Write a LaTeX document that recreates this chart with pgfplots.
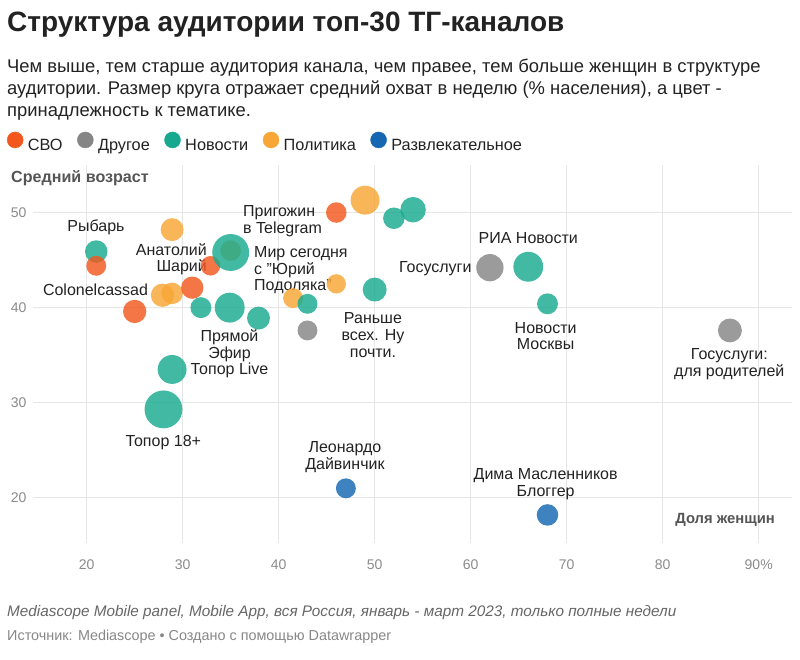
\documentclass[border=0pt]{standalone}
\usepackage{fontspec}
\setmainfont{Liberation Sans}
\usepackage{pgfplots}
\pgfplotsset{compat=1.18}
\usepackage{pgfplotstable}
\definecolor{cSVO}{HTML}{F2581E}
\definecolor{cOther}{HTML}{858585}
\definecolor{cNews}{HTML}{17A98F}
\definecolor{cPol}{HTML}{F8A635}
\definecolor{cEnt}{HTML}{1567B2}
\definecolor{gridc}{HTML}{E6E6E6}
\definecolor{tickc}{HTML}{8A8A8A}
\definecolor{labc}{HTML}{222222}
\definecolor{axlabc}{HTML}{555555}

% x = share of women (%), y = average age, r = bubble radius (bp), c = category
\pgfplotstableread{
x y r c
35 46 10.3 p
28 29.3 19 n
32.9 44.4 9.8 s
35 45.8 18.5 n
34.9 40 15 n
66 44.3 15 n
28.9 33.5 14.5 n
49 51.3 14.5 p
62 44.2 13.7 d
54 50.3 12.8 n
50 41.9 12 n
87 37.6 12 d
21 45.9 11.3 n
21 44.4 10 s
25 39.6 11.7 s
28.9 48.2 11.5 p
27.9 41.3 11.7 p
28.9 41.5 10.8 p
31 42.1 11.2 s
31.9 40 10.5 n
37.9 38.9 11.5 n
52 49.4 10.8 n
46 50 10.3 s
46 42.5 9.7 p
41.5 41 10 p
43 40.4 10 n
43 37.6 10 d
68 40.4 10.5 n
47 21 10 e
68 18.2 10.8 e
}\bubbles

\newcommand{\lfont}{\fontsize{16bp}{16.7bp}\selectfont}

\begin{document}
\begin{tikzpicture}[x=1bp,y=1bp]
\path[use as bounding box] (0,0) rectangle (800,660);
% title, subtitle
\node[anchor=base west, inner sep=0, text=labc, font=\fontsize{28bp}{32bp}\selectfont\bfseries] at (7,628.5) {Структура аудитории топ-30 ТГ-каналов};
\node[anchor=base west, inner sep=0, text=labc, font=\fontsize{18.4bp}{20bp}\selectfont] at (7,587.5) {Чем выше, тем старше аудитория канала, чем правее, тем больше женщин в структуре};
\node[anchor=base west, inner sep=0, text=labc, font=\fontsize{18.4bp}{20bp}\selectfont] at (7,565.2) {аудитории. Размер круга отражает средний охват в неделю (\% населения), а цвет -};
\node[anchor=base west, inner sep=0, text=labc, font=\fontsize{18.4bp}{20bp}\selectfont] at (7,543) {принадлежность к тематике.};
% axis title
\node[anchor=west, inner sep=0, text=axlabc, font=\fontsize{16.1bp}{18bp}\selectfont\bfseries] at (11,481.7) {Средний возраст};
% footer
\node[anchor=base west, inner sep=0, text=black!60, font=\fontsize{15.3bp}{18bp}\selectfont\itshape] at (7,43) {Mediascope Mobile panel, Mobile App, вся Россия, январь - март 2023, только полные недели};
\node[anchor=base west, inner sep=0, text=black!47, font=\fontsize{14.4bp}{16bp}\selectfont] at (7,19.5) {Источник: Mediascope • Создано с помощью Datawrapper};

\begin{axis}[
  at={(33bp,117bp)}, anchor=south west, scale only axis,
  width=759bp, height=378bp,
  xmin=14.41, xmax=93.47, ymin=15.25, ymax=55,
  axis line style={draw=none},
  major tick style={draw=none},
  xmajorgrids, ymajorgrids,
  major grid style={draw=gridc, line width=1bp},
  xtick={20,30,40,50,60,70,80,90},
  xticklabels={20,30,40,50,60,70,80,90\%},
  ytick={20,30,40,50},
  /pgf/number format/assume math mode=true,
  tick label style={font=\fontsize{14bp}{16bp}\selectfont, text=tickc},
  yticklabel style={xshift=-3bp},
  xticklabel style={yshift=-13bp},
  clip=false,
  legend style={draw=none, fill=none, inner sep=0pt, outer sep=0pt,
    at={(-0.0343,1.0609)}, anchor=west, legend columns=-1,
    font=\fontsize{16.3bp}{18bp}\selectfont, text=labc,
    nodes={inner sep=0pt},
    /tikz/every odd column/.append style={column sep=4.5bp},
    /tikz/every even column/.append style={column sep=14.5bp}},
]
\addlegendimage{legend image code/.code={\fill[cSVO] (8bp,5.8bp) circle (8bp);}}
\addlegendimage{legend image code/.code={\fill[cOther] (8bp,5.8bp) circle (8bp);}}
\addlegendimage{legend image code/.code={\fill[cNews] (8bp,5.8bp) circle (8bp);}}
\addlegendimage{legend image code/.code={\fill[cPol] (8bp,5.8bp) circle (8bp);}}
\addlegendimage{legend image code/.code={\fill[cEnt] (8bp,5.8bp) circle (8bp);}}
\legend{СВО,Другое,Новости,Политика,Развлекательное}

\addplot[scatter, only marks, mark=*,
  point meta=explicit symbolic,
  scatter/classes={
    s={mark=*, draw=cSVO, draw opacity=0, fill=cSVO, fill opacity=0.82},
    d={mark=*, draw=cOther, draw opacity=0, fill=cOther, fill opacity=0.82},
    n={mark=*, draw=cNews, draw opacity=0, fill=cNews, fill opacity=0.82},
    p={mark=*, draw=cPol, draw opacity=0, fill=cPol, fill opacity=0.82},
    e={mark=*, draw=cEnt, draw opacity=0, fill=cEnt, fill opacity=0.82}},
  visualization depends on={\thisrow{r} \as \rad},
  scatter/@pre marker code/.append style={/tikz/mark size=\rad}]
  table[x=x, y=y, meta=c] {\bubbles};

% labels
\begin{scope}[every node/.style={text=labc, font=\lfont, inner sep=0}]
\node[align=center] at (axis cs:20.97,48.49) {Рыбарь};
\node[align=center] at (axis cs:20.92,41.9) {Colonelcassad};
\node[anchor=east, align=right] at (axis cs:32.54,45.09) {Анатолий\\Шарий};
\node[anchor=west, align=left] at (axis cs:36.28,49.1) {Пригожин\\в Telegram};
\node[anchor=west, align=left] at (axis cs:37.43,43.93) {Мир сегодня\\с "Юрий\\Подоляка"};
\node[align=center] at (axis cs:34.88,35.13) {Прямой\\Эфир\\Топор Live};
\node[align=center] at (axis cs:49.82,37.13) {Раньше\\всех. Ну\\почти.};
\node[anchor=east] at (axis cs:60.1,44.11) {Госуслуги};
\node[align=center] at (axis cs:66,47.33) {РИА Новости};
\node[align=center] at (axis cs:67.81,37.0) {Новости\\Москвы};
\node[align=center] at (axis cs:86.94,34.02) {Госуслуги:\\для родителей};
\node[align=center] at (axis cs:27.98,25.77) {Топор 18+};
\node[align=center] at (axis cs:46.9,24.3) {Леонардо\\Дайвинчик};
\node[align=center] at (axis cs:67.81,21.46) {Дима Масленников\\Блоггер};
\end{scope}
\node[anchor=east, inner sep=0, text=axlabc, font=\fontsize{14.8bp}{18bp}\selectfont\bfseries] at (axis cs:91.7,17.65) {Доля женщин};
\end{axis}
\end{tikzpicture}
\end{document}
